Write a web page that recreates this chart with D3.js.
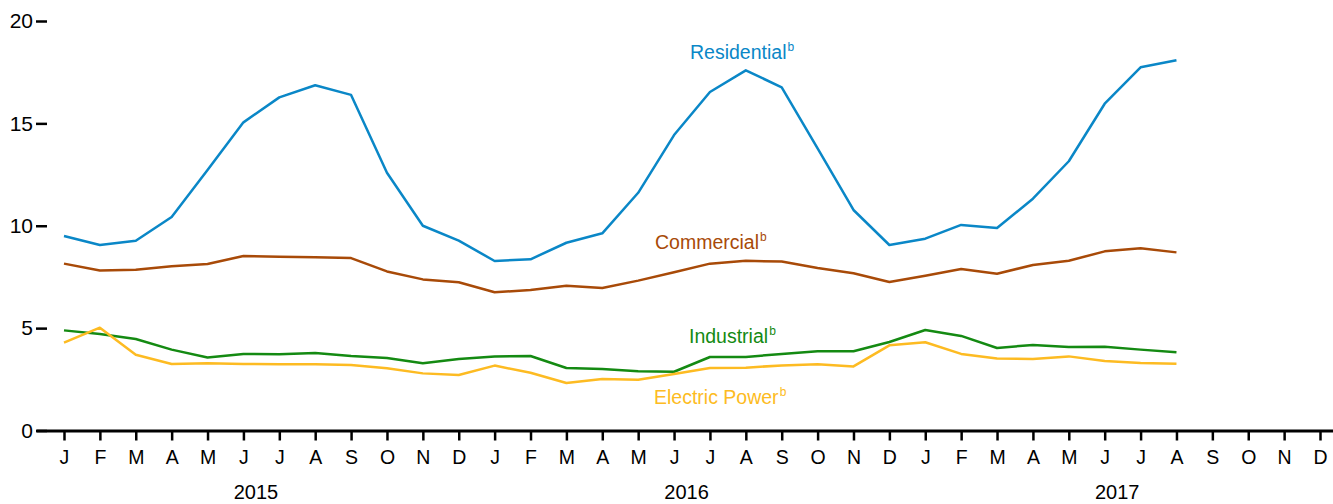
<!DOCTYPE html>
<html>
<head>
<meta charset="utf-8">
<script src="https://cdn.jsdelivr.net/npm/d3@7"></script>
<style>
  html, body { margin: 0; padding: 0; background: #fff; }
  svg { display: block; font-family: "Liberation Sans", Arial, sans-serif; }
</style>
</head>
<body>
<svg id="chart" width="1333" height="504"></svg>
<script>
const monthLabels = ["J","F","M","A","M","J","J","A","S","O","N","D"];
const years = ["2015","2016","2017"];
const yTicks = [0, 5, 10, 15, 20];

const residential = [9.50,9.06,9.27,10.43,12.72,15.05,16.27,16.86,16.39,12.59,10.00,9.27,
                     8.28,8.36,9.17,9.63,11.61,14.43,16.53,17.59,16.76,13.78,10.77,9.06,
                     9.37,10.04,9.89,11.32,13.15,15.96,17.74,18.08];
const commercial = [8.15,7.81,7.85,8.02,8.13,8.52,8.49,8.46,8.42,7.77,7.38,7.24,
                    6.75,6.86,7.07,6.96,7.32,7.73,8.15,8.29,8.25,7.94,7.68,7.25,
                    7.56,7.89,7.66,8.08,8.29,8.75,8.90,8.70];
const industrial = [4.89,4.71,4.47,3.95,3.57,3.74,3.72,3.79,3.64,3.54,3.28,3.49,
                    3.61,3.64,3.05,3.00,2.89,2.87,3.59,3.59,3.74,3.87,3.87,4.32,
                    4.91,4.62,4.03,4.18,4.08,4.09,3.95,3.82];
const electricPower = [4.29,5.02,3.70,3.25,3.28,3.25,3.23,3.23,3.20,3.04,2.79,2.71,
                       3.17,2.82,2.32,2.52,2.48,2.76,3.05,3.07,3.18,3.23,3.13,4.16,
                       4.31,3.74,3.52,3.49,3.62,3.39,3.30,3.26];

const seriesNames = ["Residential","Commercial","Industrial","Electric Power"];
const seriesColors = ["#0a87c7","#a84a08","#148a12","#fdbb22"];
const seriesData = [residential, commercial, industrial, electricPower];
const labelAt = [[690, 59],[655, 249],[689, 343],[654, 404]];

const svg = d3.select("#chart");
const nMonths = years.length * 12;

const x = d3.scaleLinear().domain([-0.78, 35.362]).range([36, 1333]);
const y = d3.scaleLinear().domain([0, 20]).range([430.5, 21]);

// X axis
const xAxis = d3.axisBottom(x)
  .tickValues(d3.range(nMonths))
  .tickFormat(i => monthLabels[i % 12])
  .tickSize(10)
  .tickSizeOuter(0)
  .tickPadding(10);
const gx = svg.append("g").attr("transform", `translate(0,${y(0)})`).call(xAxis);
gx.select(".domain").attr("stroke", "#000").attr("stroke-width", 3);
gx.selectAll(".tick line").attr("stroke", "#000").attr("stroke-width", 2.5);
gx.selectAll(".tick text").attr("font-size", 19.5).attr("fill", "#000")
  .attr("font-family", "Liberation Sans, Arial, sans-serif");

// Year labels
svg.append("g").selectAll("text").data(years).join("text")
  .attr("x", (d, i) => x(i * 12 + 5.35))
  .attr("y", 499)
  .attr("text-anchor", "middle")
  .attr("font-size", 20)
  .attr("fill", "#000")
  .text(d => d);

// Y axis
const yAxis = d3.axisLeft(y).tickValues(yTicks).tickSize(11).tickPadding(3);
const gy = svg.append("g").attr("transform", "translate(47,0)").call(yAxis);
gy.select(".domain").remove();
gy.selectAll(".tick line").attr("stroke", "#000").attr("stroke-width", 2.5);
gy.selectAll(".tick text").attr("font-size", 21).attr("fill", "#000")
  .attr("font-family", "Liberation Sans, Arial, sans-serif");

// Lines
const line = d3.line().x((d, i) => x(i)).y(d => y(d));
svg.append("g").selectAll("path").data(seriesData).join("path")
  .attr("d", d => line(d))
  .attr("fill", "none")
  .attr("stroke", (d, i) => seriesColors[i])
  .attr("stroke-width", 2.5)
  .attr("stroke-linejoin", "round");

// Series labels
const lab = svg.append("g").selectAll("text").data(seriesNames).join("text")
  .attr("x", (d, i) => labelAt[i][0])
  .attr("y", (d, i) => labelAt[i][1])
  .attr("font-size", 19.5)
  .attr("fill", (d, i) => seriesColors[i]);
lab.append("tspan").text(d => d);
lab.append("tspan").attr("font-size", 12).attr("dy", -8).attr("dx", 1).text("b");
</script>
</body>
</html>
